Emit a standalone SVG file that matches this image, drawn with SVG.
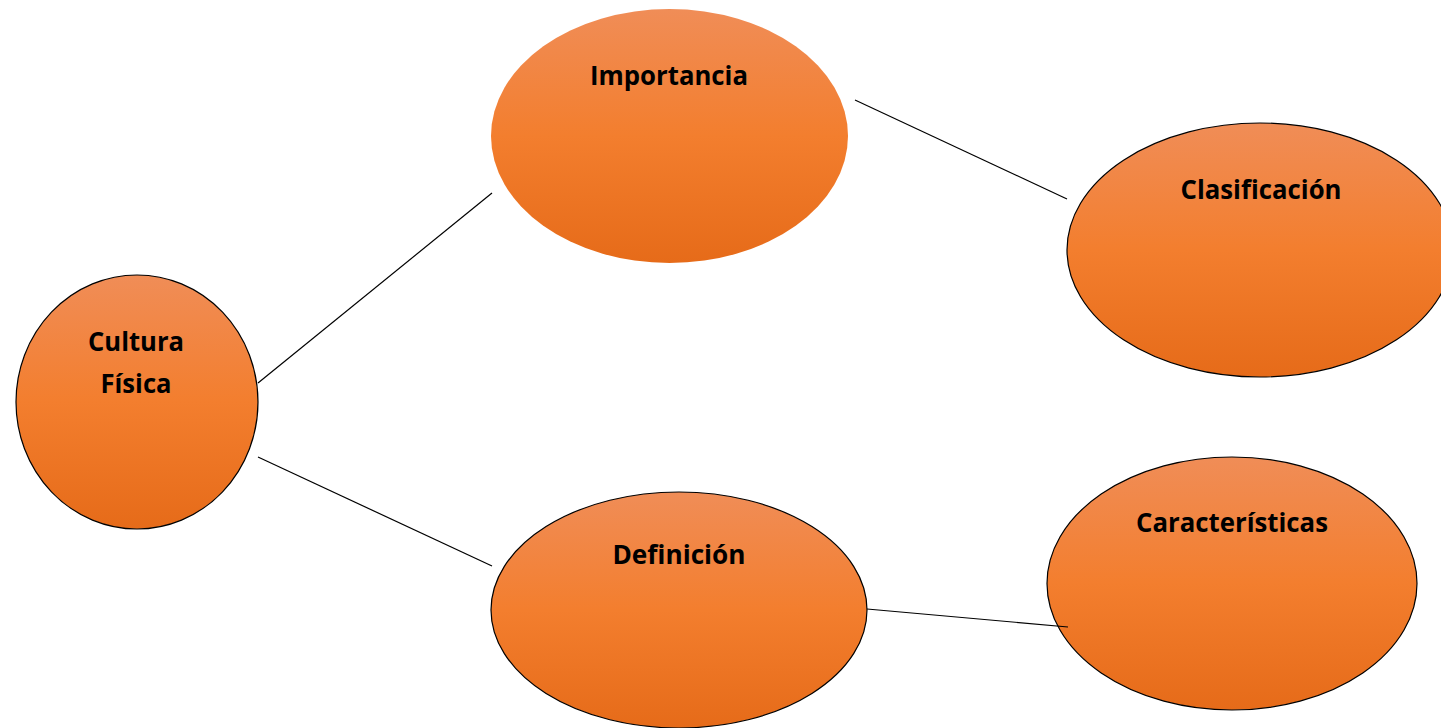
<svg xmlns="http://www.w3.org/2000/svg" width="1441" height="728" viewBox="0 0 1441 728">
<defs>
<linearGradient id="og" x1="0" y1="0" x2="0" y2="1">
<stop offset="0" stop-color="#F08D57"/>
<stop offset="0.5" stop-color="#F37E2E"/>
<stop offset="1" stop-color="#E66B19"/>
</linearGradient>
<style>
.n{fill:url(#og);stroke:#000;stroke-width:1.2}
.ns{fill:url(#og);stroke:none}
.t{font-family:"Open Sans","Liberation Sans",sans-serif;font-weight:bold;font-size:27px;fill:#000;text-anchor:middle}
.c{stroke:#000;stroke-width:1.2;fill:none}
</style>
</defs>
<rect width="1441" height="728" fill="#fff"/>
<g id="cultura">
<ellipse class="n" cx="137" cy="402" rx="121" ry="127"/>
<text class="t" x="136" y="351" textLength="96" lengthAdjust="spacingAndGlyphs">Cultura</text>
<text class="t" x="136" y="393" textLength="71" lengthAdjust="spacingAndGlyphs">Física</text>
</g>
<g id="importancia">
<ellipse class="ns" cx="669.5" cy="136" rx="178.5" ry="127"/>
<text class="t" x="669" y="85" textLength="158" lengthAdjust="spacingAndGlyphs">Importancia</text>
</g>
<g id="clasificacion">
<ellipse class="n" cx="1260" cy="250" rx="193" ry="127"/>
<text class="t" x="1261" y="199" textLength="161" lengthAdjust="spacingAndGlyphs">Clasificación</text>
</g>
<g id="definicion">
<ellipse class="n" cx="679" cy="610" rx="188" ry="118"/>
<text class="t" x="679" y="564" textLength="133" lengthAdjust="spacingAndGlyphs">Definición</text>
</g>
<g id="caracteristicas">
<ellipse class="n" cx="1232" cy="583.5" rx="185" ry="126.5"/>
<text class="t" x="1232" y="532" textLength="192" lengthAdjust="spacingAndGlyphs">Características</text>
</g>
<g id="connectors">
<line class="c" x1="258" y1="383" x2="492" y2="193"/>
<line class="c" x1="258" y1="457" x2="492" y2="566"/>
<line class="c" x1="855" y1="100" x2="1067" y2="199"/>
<line class="c" x1="867" y1="609" x2="1068" y2="627"/>
</g>
</svg>
